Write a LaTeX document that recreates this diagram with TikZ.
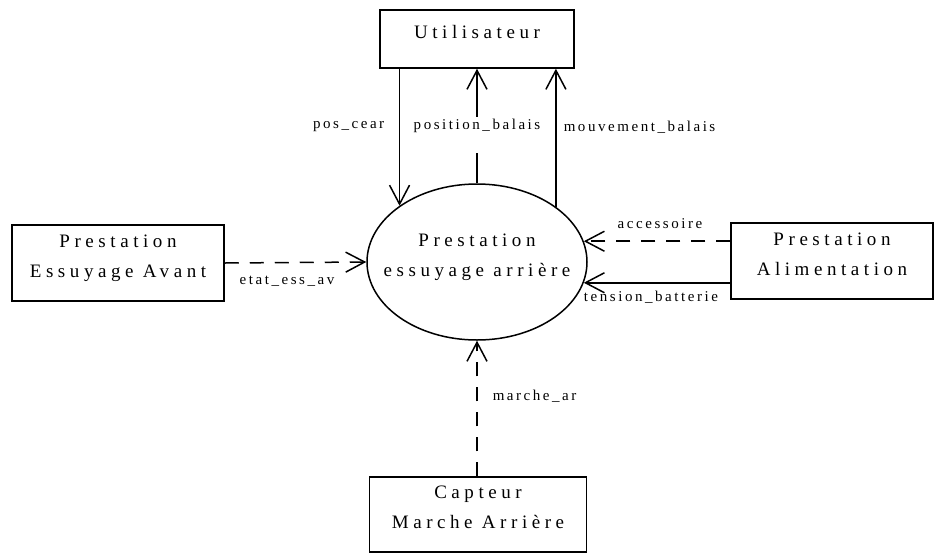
\documentclass[tikz,border=0pt]{standalone}
\usepackage{fontspec}
\setmainfont{Liberation Serif}
\newfontfamily\boxfont{Liberation Serif}[LetterSpace=24]
\newfontfamily\lblfont{Liberation Serif}[LetterSpace=17]
\usetikzlibrary{shapes.geometric,arrows.meta,calc}
\begin{document}
\begin{tikzpicture}[x=1pt,y=-1pt,
  every path/.style={line width=1.5pt},
  blockbox/.style={draw,rectangle,inner sep=0pt,align=center,text depth=14pt,
    font=\boxfont\fontsize{19}{30}\selectfont},
  process/.style={draw,ellipse,inner sep=0pt,minimum width=220pt,minimum height=156pt},
  proctext/.style={align=center,inner sep=0pt,font=\boxfont\fontsize{19}{30}\selectfont},
  flow/.style={-{Straight Barb[length=19pt,width=20pt]}},
  dflow/.style={flow,dash pattern=on 14pt off 11pt},
  lbl/.style={inner sep=1pt,font=\lblfont\fontsize{15}{18}\selectfont}]
\useasboundingbox (0,0) rectangle (935,555);

% processes and external entities
\node[process] (ell) at (477,262) {};
\node[proctext] (elltext) at (477,257) {Prestation\\essuyage arrière};
\node[blockbox,minimum width=194pt,minimum height=58pt] (user) at (477,39) {Utilisateur};
\node[blockbox,minimum width=212pt,minimum height=76pt] (left) at (118,263) {Prestation\\Essuyage Avant};
\node[blockbox,minimum width=202pt,minimum height=76pt] (right) at (832,261) {Prestation\\Alimentation};
\node[blockbox,minimum width=217pt,minimum height=75pt] (bottom) at (478,514.5) {Capteur\\Marche Arrière};

% flows with the user
\draw[flow] (ell.144.8 |- user.south) -- (ell.144.8);
\draw[flow] (ell.north) -- (user.south)
  node[lbl,fill=white,pos=0.466,anchor=base,inner xsep=4pt,inner ysep=0pt,
       text height=13pt,text depth=23pt] (lpb) {position\_balais};
\draw[flow] (ell.35.2) -- (ell.35.2 |- user.south);
\node[lbl,anchor=east] (lpc) at (386,127) {pos\_cear};
\node[lbl,anchor=west] (lmb) at (562,127) {mouvement\_balais};

% flow from the front wiper service
\draw[dflow] (left.east) -- (ell.west);
\node[lbl] (lea) at (287,281) {etat\_ess\_av};

% flows from the power supply service
\draw[dflow] (ell.11.2 -| right.west) -- (ell.11.2);
\draw[flow] (ell.-11.2 -| right.west) -- (ell.-11.2);
\node[lbl] (lacc) at (660,224) {accessoire};
\node[lbl] (ltb) at (651,297) {tension\_batterie};

% flow from the reverse gear sensor
\draw[dflow] (ell.south |- bottom.north) -- (ell.south);
\node[lbl,anchor=west] (lma) at (491,396) {marche\_ar};
\end{tikzpicture}
\end{document}
